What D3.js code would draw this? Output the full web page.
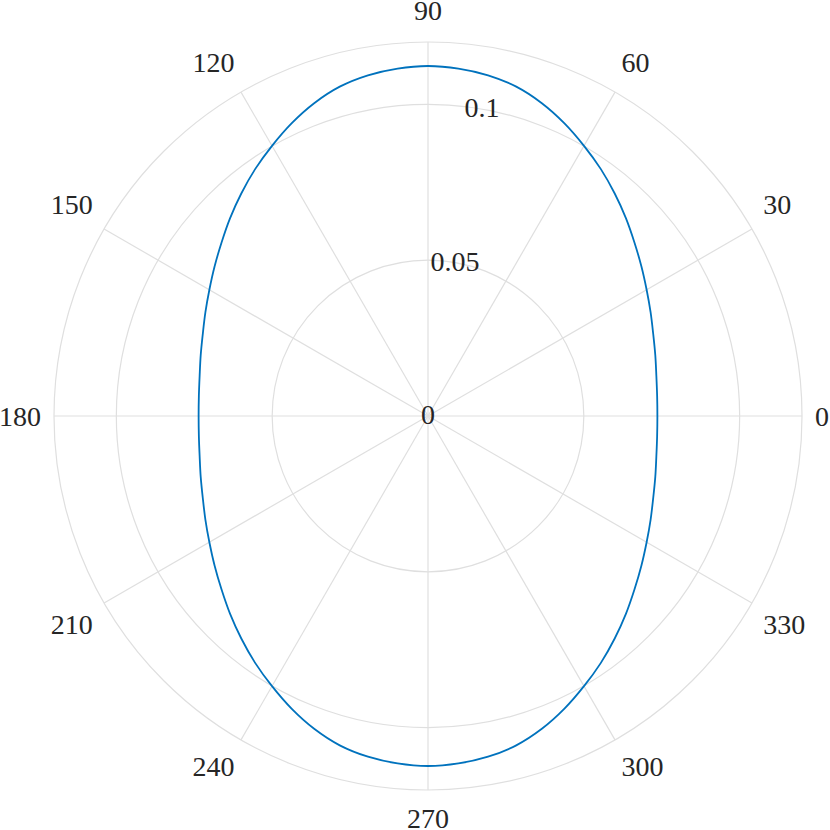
<!DOCTYPE html>
<html>
<head>
<meta charset="utf-8">
<script src="https://cdn.jsdelivr.net/npm/d3@7"></script>
<style>
  html, body { margin: 0; padding: 0; background: #fff; }
  svg { display: block; }
</style>
</head>
<body>
<svg id="chart" width="830" height="830"></svg>
<script>
// ---- data ----
const thetaDeg = d3.range(0, 360, 5); // sample angles, 5 degree steps
const rValues = [
  0.0736,0.0738,0.0744,0.0755,0.0769,0.0788,0.0810,0.0836,0.0865,0.0898,0.0932,0.0967,0.1001,0.1036,0.1068,0.1094,0.1110,0.1119,0.1123,
  0.1119,0.1110,0.1094,0.1068,0.1036,0.1001,0.0967,0.0932,0.0898,0.0865,0.0836,0.0810,0.0788,0.0769,0.0755,0.0744,0.0738,0.0736,
  0.0738,0.0744,0.0755,0.0769,0.0788,0.0810,0.0836,0.0865,0.0898,0.0932,0.0967,0.1001,0.1036,0.1068,0.1094,0.1110,0.1119,0.1123,
  0.1119,0.1110,0.1094,0.1068,0.1036,0.1001,0.0967,0.0932,0.0898,0.0865,0.0836,0.0810,0.0788,0.0769,0.0755,0.0744,0.0738
];
const thetaTicks = [0,30,60,90,120,150,180,210,240,270,300,330];
const rTicks = [0, 0.05, 0.1];
const rTickLabels = ["0", "0.05", "0.1"];
const rMax = 0.12;

// ---- layout ----
const cx = 428, cy = 416, R = 374;
const svg = d3.select("#chart");
const g = svg.append("g").attr("transform", `translate(${cx},${cy})`);
const r = d3.scaleLinear().domain([0, rMax]).range([0, R]);
const toRad = d => d * Math.PI / 180;
const gridColor = "#dfdfdf";
const textColor = "#262626";
const font = "'Liberation Serif', 'DejaVu Serif', serif";

// rings
g.selectAll("circle.ring").data(rTicks.filter(v => v > 0).concat([rMax]))
  .enter().append("circle")
  .attr("r", d => r(d))
  .attr("fill", "none").attr("stroke", gridColor).attr("stroke-width", 1.2);

// spokes
g.selectAll("line.spoke").data(thetaTicks).enter().append("line")
  .attr("x1", 0).attr("y1", 0)
  .attr("x2", d => r(rMax) * Math.cos(toRad(d)))
  .attr("y2", d => -r(rMax) * Math.sin(toRad(d)))
  .attr("stroke", gridColor).attr("stroke-width", 1.2);

// angle labels
const gap = 13;
g.selectAll("text.tl").data(thetaTicks).enter().append("text")
  .attr("font-family", font).attr("font-size", 28).attr("fill", textColor)
  .attr("x", d => (R + gap) * Math.cos(toRad(d)))
  .attr("y", d => {
    const s = Math.sin(toRad(d));
    const base = -(R + gap) * s;
    if (s > 0.01) return base - 9;
    if (s < -0.01) return base + 24.5;
    return base + 9.5;
  })
  .attr("text-anchor", d => {
    const c = Math.cos(toRad(d));
    return c > 0.01 ? "start" : (c < -0.01 ? "end" : "middle");
  })
  .text(d => d);

// radial labels at 80 degrees
const rAxisAngle = 80;
g.selectAll("text.rl").data(rTicks).enter().append("text")
  .attr("font-family", font).attr("font-size", 28).attr("fill", textColor)
  .attr("text-anchor", "middle")
  .attr("x", d => r(d) * Math.cos(toRad(rAxisAngle)))
  .attr("y", d => -r(d) * Math.sin(toRad(rAxisAngle)) + 8)
  .text((d, i) => rTickLabels[i]);

// data curve
const pts = thetaDeg.map((t, i) => ({ t, v: rValues[i] }));
const line = d3.lineRadial()
  .angle(d => Math.PI / 2 - toRad(d.t))
  .radius(d => r(d.v))
  .curve(d3.curveCatmullRomClosed.alpha(0.5));
g.append("path").datum(pts)
  .attr("d", line)
  .attr("fill", "none").attr("stroke", "#0072BD").attr("stroke-width", 1.8);
</script>
</body>
</html>
